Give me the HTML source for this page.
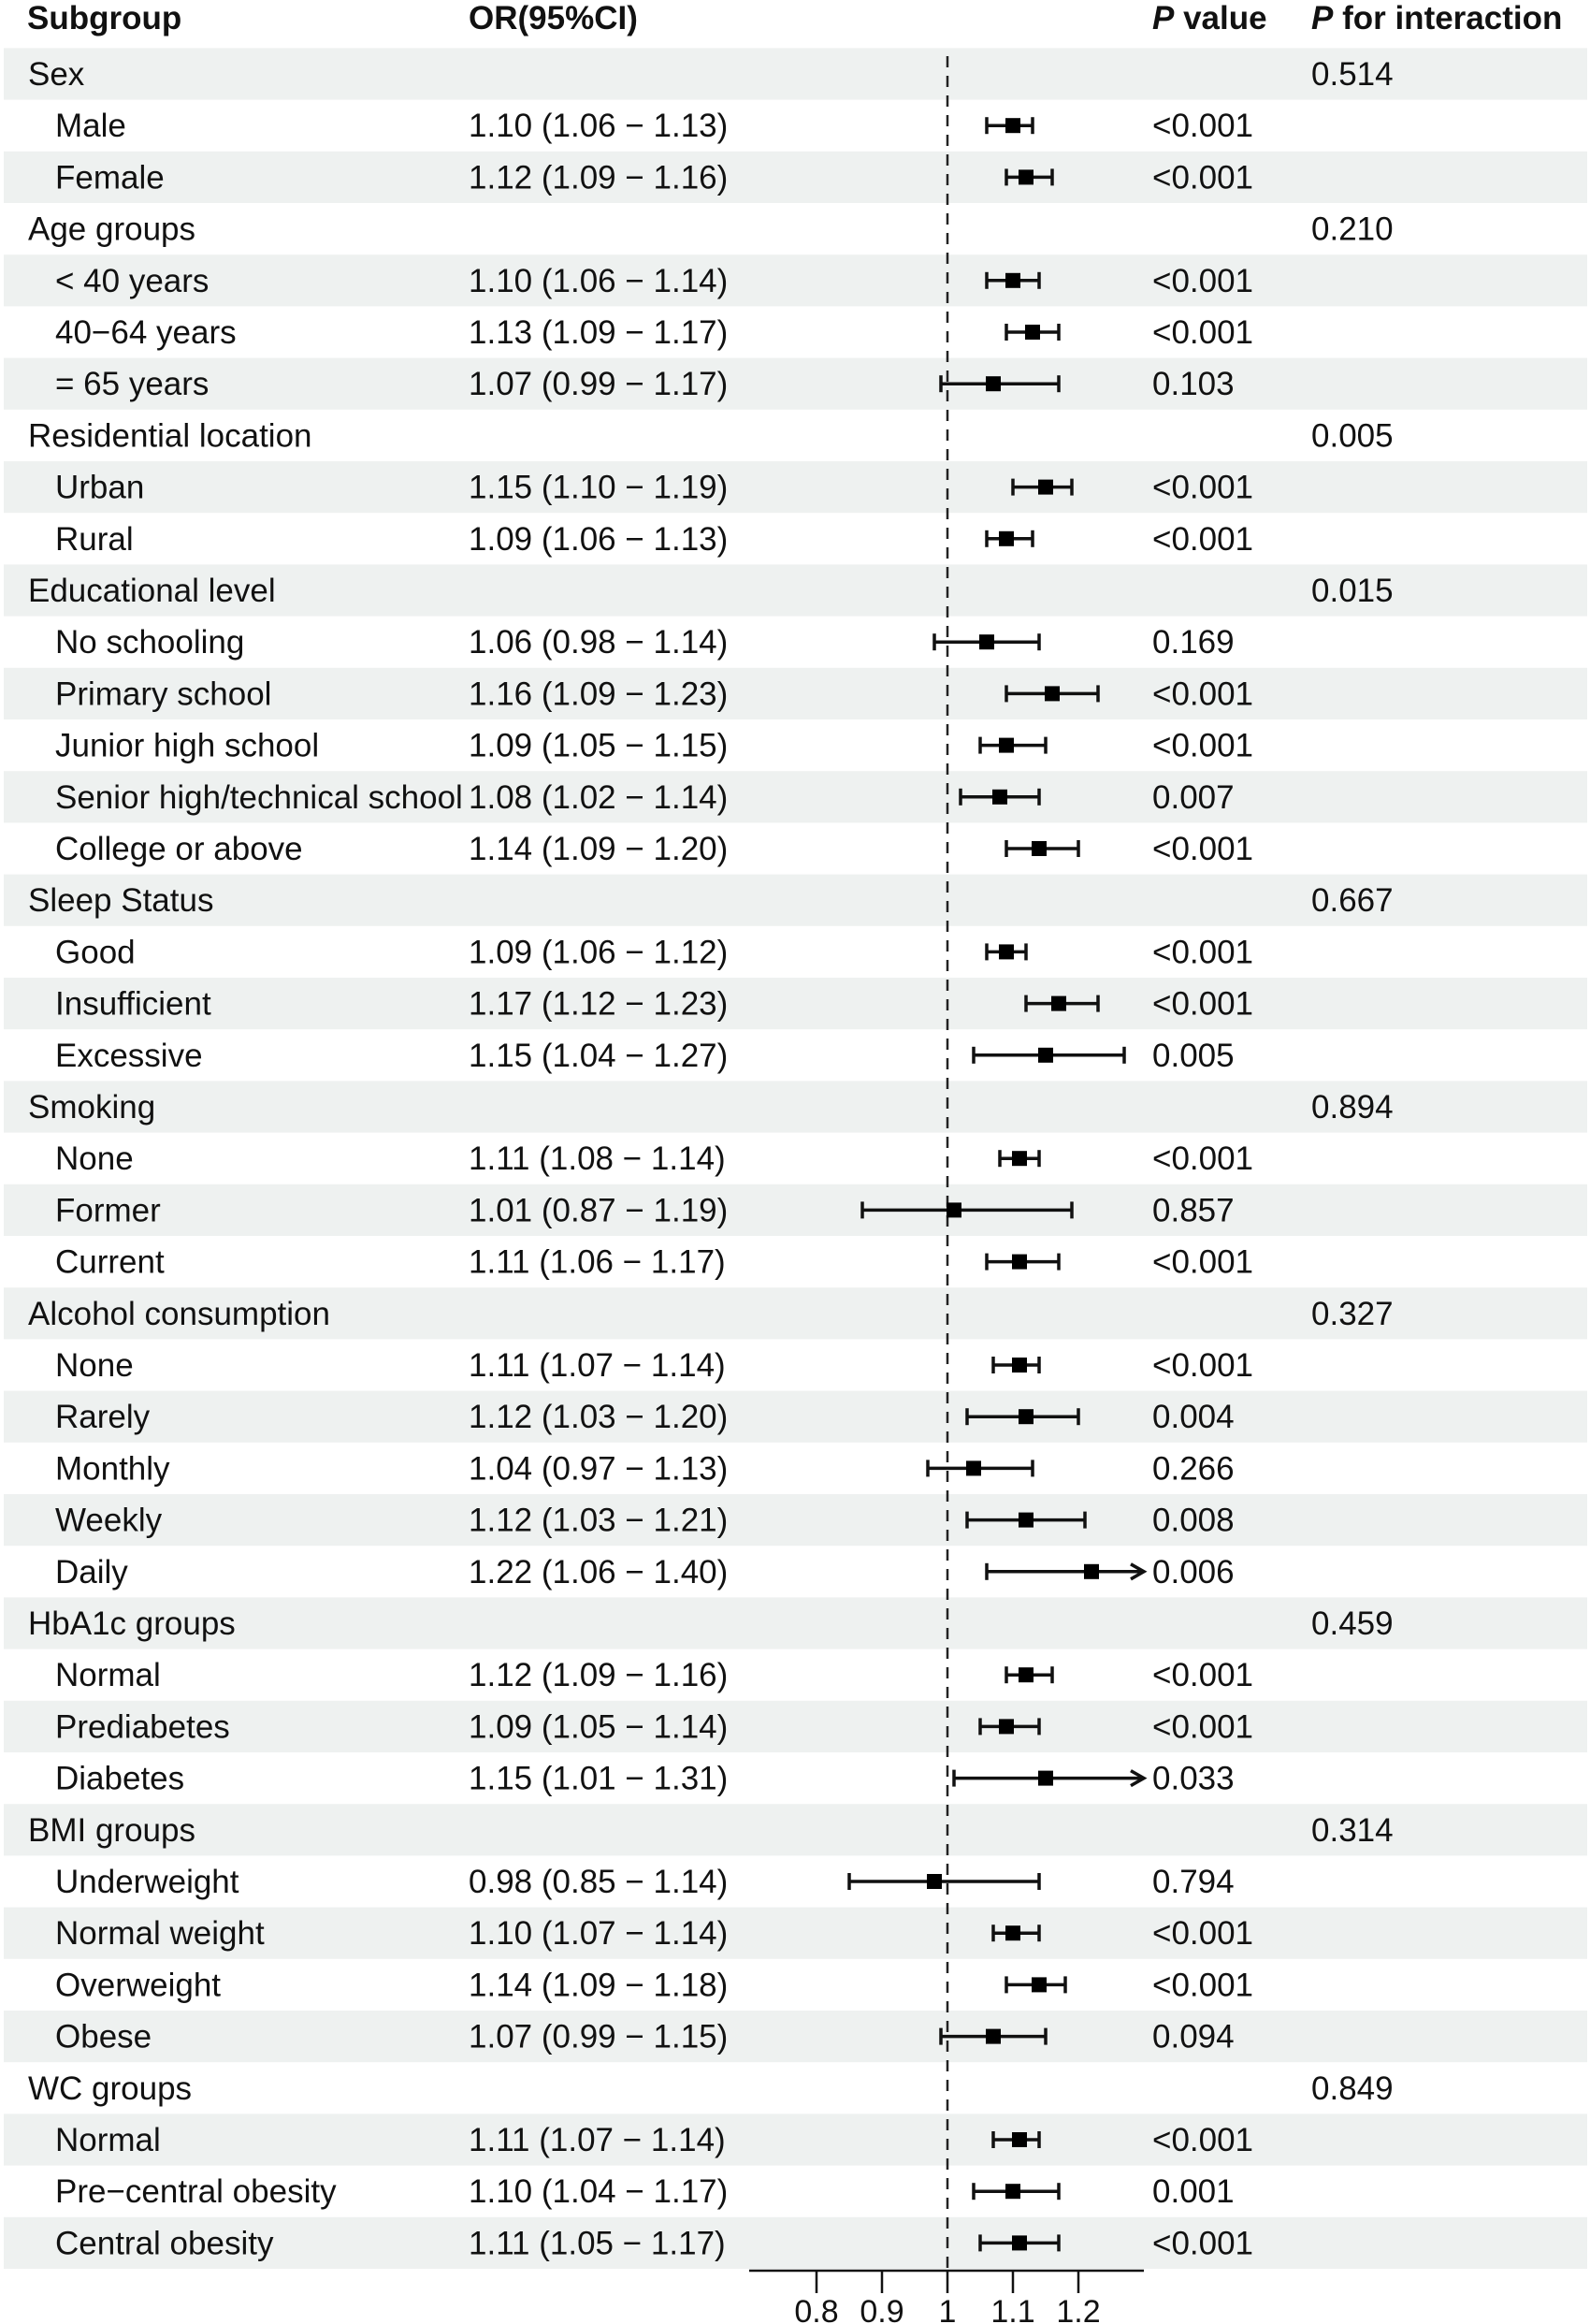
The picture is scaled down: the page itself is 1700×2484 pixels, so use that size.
<!DOCTYPE html>
<html><head><meta charset="utf-8"><style>
html,body{margin:0;padding:0;background:#fff;}
svg{display:block;font-family:"Liberation Sans",sans-serif;}
</style></head><body>
<svg id="chart" width="1700" height="2484" viewBox="0 0 1700 2484" xmlns="http://www.w3.org/2000/svg">
<g id="bands"></g>
<g id="header" font-size="35" font-weight="bold" fill="#111">
<text x="29" y="31">Subgroup</text>
<text x="501" y="31">OR(95%CI)</text>
<text x="1232" y="31"><tspan font-style="italic">P</tspan> value</text>
<text x="1402" y="31"><tspan font-style="italic">P</tspan> for interaction</text>
</g>
<g id="rows" font-size="35" fill="#111"></g>
<g id="marks"></g>
<g id="axis"></g>
</svg>
<script>
const labels = ["Sex","Male","Female","Age groups","< 40 years","40\u221264 years","= 65 years","Residential location","Urban","Rural","Educational level","No schooling","Primary school","Junior high school","Senior high/technical school","College or above","Sleep Status","Good","Insufficient","Excessive","Smoking","None","Former","Current","Alcohol consumption","None","Rarely","Monthly","Weekly","Daily","HbA1c groups","Normal","Prediabetes","Diabetes","BMI groups","Underweight","Normal weight","Overweight","Obese","WC groups","Normal","Pre\u2212central obesity","Central obesity"];
const isGroup = [1,0,0,1,0,0,0,1,0,0,1,0,0,0,0,0,1,0,0,0,1,0,0,0,1,0,0,0,0,0,1,0,0,0,1,0,0,0,0,1,0,0,0];
const orVals = [null,1.10,1.12,null,1.10,1.13,1.07,null,1.15,1.09,null,1.06,1.16,1.09,1.08,1.14,null,1.09,1.17,1.15,null,1.11,1.01,1.11,null,1.11,1.12,1.04,1.12,1.22,null,1.12,1.09,1.15,null,0.98,1.10,1.14,1.07,null,1.11,1.10,1.11];
const lowVals = [null,1.06,1.09,null,1.06,1.09,0.99,null,1.10,1.06,null,0.98,1.09,1.05,1.02,1.09,null,1.06,1.12,1.04,null,1.08,0.87,1.06,null,1.07,1.03,0.97,1.03,1.06,null,1.09,1.05,1.01,null,0.85,1.07,1.09,0.99,null,1.07,1.04,1.05];
const highVals = [null,1.13,1.16,null,1.14,1.17,1.17,null,1.19,1.13,null,1.14,1.23,1.15,1.14,1.20,null,1.12,1.23,1.27,null,1.14,1.19,1.17,null,1.14,1.20,1.13,1.21,1.40,null,1.16,1.14,1.31,null,1.14,1.14,1.18,1.15,null,1.14,1.17,1.17];
const pVals = ["","<0.001","<0.001","","<0.001","<0.001","0.103","","<0.001","<0.001","","0.169","<0.001","<0.001","0.007","<0.001","","<0.001","<0.001","0.005","","<0.001","0.857","<0.001","","<0.001","0.004","0.266","0.008","0.006","","<0.001","<0.001","0.033","","0.794","<0.001","<0.001","0.094","","<0.001","0.001","<0.001"];
const pInter = ["0.514","","","0.210","","","","0.005","","","0.015","","","","","","0.667","","","","0.894","","","","0.327","","","","","","0.459","","","","0.314","","","","","0.849","","",""];
const ticks = [0.8,0.9,1,1.1,1.2];
const tickLabels = ["0.8","0.9","1","1.1","1.2"];

const NS="http://www.w3.org/2000/svg";
const X0=1013, PX=700, AXMIN=0.74, AXMAX=1.30, AXY=2427;
const xs = v => X0 + (v-1)*PX;
const yRow = i => 79 + i*55.2;
function mk(tag, attrs, parent){const e=document.createElementNS(NS,tag);for(const k in attrs)e.setAttribute(k,attrs[k]);parent.appendChild(e);return e;}
const bands=document.getElementById('bands'), rows=document.getElementById('rows'), marks=document.getElementById('marks'), axis=document.getElementById('axis');

labels.forEach((lab,i)=>{
  const y=yRow(i);
  if(i%2===0){
    const r=mk('rect',{x:4,y:y-27.6,width:1693,height:55.2,fill:'#eef1f0'},bands);
    
    
  }
  const t=mk('text',{x:isGroup[i]?30:59,y:y+12},rows); t.textContent=lab;
  
  
  if(orVals[i]!==null){
    const o=mk('text',{x:501,y:y+12},rows);
    o.textContent=orVals[i].toFixed(2)+" ("+lowVals[i].toFixed(2)+" \u2212 "+highVals[i].toFixed(2)+")";
    
    
  }
  if(pVals[i]){
    const p=mk('text',{x:1232,y:y+12},rows); p.textContent=pVals[i];
    
    
  }
  if(pInter[i]){
    const p=mk('text',{x:1402,y:y+12},rows); p.textContent=pInter[i];
    
    
  }
});

const ref=mk('line',{x1:xs(1),x2:xs(1),y1:60,y2:AXY,stroke:'#222','stroke-width':2.5,'stroke-dasharray':'12,9'},marks);



orVals.forEach((v,i)=>{
  if(v===null) return;
  const y=yRow(i);
  const lo=Math.max(lowVals[i],AXMIN), hiClip=highVals[i]>AXMAX, hi=Math.min(highVals[i],AXMAX);
  const g=mk('g',{},marks);
  
  
  mk('line',{x1:xs(lo),x2:xs(hi),y1:y,y2:y,stroke:'#111','stroke-width':3.5},g);
  mk('line',{x1:xs(lo),x2:xs(lo),y1:y-9,y2:y+9,stroke:'#111','stroke-width':3.5},g);
  if(hiClip){
    mk('path',{d:`M${xs(hi)-14},${y-8} L${xs(hi)},${y} L${xs(hi)-14},${y+8}`,fill:'none',stroke:'#111','stroke-width':3.5},g);
  } else {
    mk('line',{x1:xs(hi),x2:xs(hi),y1:y-9,y2:y+9,stroke:'#111','stroke-width':3.5},g);
  }
  mk('rect',{x:xs(v)-8,y:y-8,width:16,height:16,fill:'#000'},g);
});

const ax=mk('line',{x1:801,x2:1223,y1:AXY,y2:AXY,stroke:'#111','stroke-width':2.5},axis);


ticks.forEach((t,k)=>{
  const tk=mk('line',{x1:xs(t),x2:xs(t),y1:AXY,y2:AXY+24,stroke:'#111','stroke-width':2.5},axis);
  
  
  const tl=mk('text',{x:xs(t),y:2482,'text-anchor':'middle','font-size':34,fill:'#111'},axis);
  tl.textContent=tickLabels[k];
  
  
});
</script>
</body></html>
